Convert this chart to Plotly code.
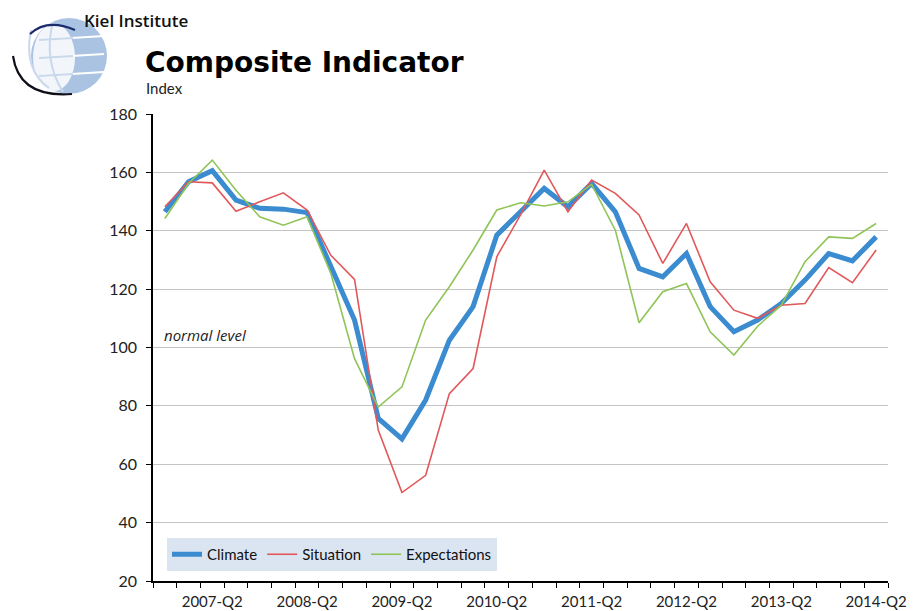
import plotly.graph_objects as go

quarters = ["2006-Q4",
            "2007-Q1", "2007-Q2", "2007-Q3", "2007-Q4",
            "2008-Q1", "2008-Q2", "2008-Q3", "2008-Q4",
            "2009-Q1", "2009-Q2", "2009-Q3", "2009-Q4",
            "2010-Q1", "2010-Q2", "2010-Q3", "2010-Q4",
            "2011-Q1", "2011-Q2", "2011-Q3", "2011-Q4",
            "2012-Q1", "2012-Q2", "2012-Q3", "2012-Q4",
            "2013-Q1", "2013-Q2", "2013-Q3", "2013-Q4",
            "2014-Q1", "2014-Q2"]

climate = [146.5, 156.8, 160.6, 150.5, 147.7, 147.4, 146.2, 127.6, 109.4, 75.7,
           68.7, 82.0, 102.5, 114.0, 138.5, 146.5, 154.5, 148.2, 156.2, 146.5,
           127.1, 124.2, 132.2, 114.0, 105.4, 109.4, 115.1, 123.1, 132.2, 129.7, 137.9]

situation = [148.2, 156.8, 156.4, 146.7, 149.9, 153.0, 147.1, 131.6, 123.3, 71.7,
             50.3, 56.2, 84.2, 92.8, 131.1, 145.4, 160.8, 146.5, 157.4, 152.8,
             145.4, 128.8, 142.5, 122.5, 112.8, 110.0, 114.5, 115.1, 127.4, 122.2, 133.4]

expectations = [144.2, 156.2, 164.2, 153.9, 144.8, 141.9, 144.8, 125.4, 96.2, 79.6,
                86.5, 109.4, 120.8, 133.4, 147.1, 149.6, 148.5, 149.9, 155.9, 140.2,
                108.5, 119.1, 121.9, 105.4, 97.4, 107.3, 114.5, 129.4, 137.9, 137.4, 142.5]

y_ticks = [20, 40, 60, 80, 100, 120, 140, 160, 180]

# page body has an 8px margin: work in screen pixels, convert to figure pixels
OFF = 8
W, H = 924 - OFF, 611 - OFF
PL, PR, PT, PB = 153, 888, 114, 581   # plot area in screen pixels
ML, MR, MT, MB = PL - OFF, (W + OFF) - PR, PT - OFF, (H + OFF) - PB
PW, PH = PR - PL, PB - PT


def px(x):
    return (x - PL) / PW


def py(y):
    return (PB - y) / PH


xi = list(range(len(quarters)))
label_idx = [i for i, q in enumerate(quarters) if q.endswith("Q2")]

fig = go.Figure()
fig.add_trace(go.Scatter(x=xi, y=climate, mode="lines", name="Climate",
                         line=dict(color="#3a8bcf", width=5)))
fig.add_trace(go.Scatter(x=xi, y=situation, mode="lines", name="Situation",
                         line=dict(color="#e2585a", width=1.6)))
fig.add_trace(go.Scatter(x=xi, y=expectations, mode="lines", name="Expectations",
                         line=dict(color="#8fc457", width=1.6)))

shapes = []
# logo: globe
cx, cy, r = 69, 56, 38
shapes.append(dict(type="circle", xref="paper", yref="paper",
                   x0=px(cx - r), x1=px(cx + r), y0=py(cy + r), y1=py(cy - r),
                   fillcolor="#abc3e2", line=dict(width=0), layer="above"))
shapes.append(dict(type="circle", xref="paper", yref="paper",
                   x0=px(cx - r + 2), x1=px(cx + 6), y0=py(cy + r - 3), y1=py(cy - r + 6),
                   fillcolor="#f2f6fb", line=dict(width=0), layer="above"))
for yy in (38, 56, 74):
    shapes.append(dict(type="line", xref="paper", yref="paper",
                       x0=px(cx - r + 8), x1=px(cx + r - 3), y0=py(yy + 2), y1=py(yy - 2),
                       line=dict(color="#ffffff", width=2), layer="above"))
for yy in (38, 56, 74):
    shapes.append(dict(type="line", xref="paper", yref="paper",
                       x0=px(cx - r + 8), x1=px(cx + 4), y0=py(yy + 2), y1=py(yy),
                       line=dict(color="#c9d8ec", width=2), layer="above"))
shapes.append(dict(type="path", xref="paper", yref="paper",
                   path=f"M {px(31)},{py(30)} Q {px(23)},{py(70)} {px(49)},{py(88)}",
                   line=dict(color="#c9d8ec", width=2), layer="above"))
shapes.append(dict(type="path", xref="paper", yref="paper",
                   path=f"M {px(53)},{py(22)} Q {px(43)},{py(60)} {px(63)},{py(92)}",
                   line=dict(color="#c9d8ec", width=2), layer="above"))
shapes.append(dict(type="path", xref="paper", yref="paper",
                   path=f"M {px(13)},{py(56)} Q {px(19)},{py(98)} {px(72)},{py(94)}",
                   line=dict(color="#10101a", width=2.2), layer="above"))
shapes.append(dict(type="path", xref="paper", yref="paper",
                   path=f"M {px(30)},{py(34)} Q {px(47)},{py(18)} {px(75)},{py(30)}",
                   line=dict(color="#1a2a6a", width=2.2), layer="above"))

annotations = [
    dict(text="Kiel Institute", xref="paper", yref="paper", x=px(82), y=py(20),
         xanchor="left", yanchor="middle", showarrow=False,
         font=dict(family="Open Sans", size=17, color="#111111", weight=600)),
    dict(text="<b>Composite Indicator</b>", xref="paper", yref="paper", x=px(143), y=py(62),
         xanchor="left", yanchor="middle", showarrow=False,
         font=dict(family="DejaVu Sans", size=28, color="#000000")),
    dict(text="Index", xref="paper", yref="paper", x=px(144), y=py(88),
         xanchor="left", yanchor="middle", showarrow=False,
         font=dict(family="Lato", size=15, color="#222222")),
    dict(text="<i>normal level</i>", xref="paper", yref="y", x=px(162), y=104.3,
         xanchor="left", yanchor="middle", showarrow=False,
         font=dict(family="Open Sans", size=15, color="#222222")),
]

fig.update_layout(
    width=W, height=H,
    margin=dict(l=ML, r=MR, t=MT, b=MB, pad=0, autoexpand=False),
    paper_bgcolor="white", plot_bgcolor="white",
    showlegend=True,
    legend=dict(orientation="h", x=px(167), y=py(571), xanchor="left", yanchor="bottom",
                bgcolor="#dbe5f1", borderwidth=0,
                font=dict(family="Lato", size=15, color="#111111"),
                itemwidth=30, tracegroupgap=0),
    shapes=shapes,
    annotations=annotations,
    xaxis=dict(range=[-0.5, len(quarters) - 0.5], automargin=False,
               tickmode="array", tickvals=label_idx,
               ticktext=[quarters[i] for i in label_idx],
               ticks="", ticklen=0, ticklabelstandoff=6,
               showgrid=False, zeroline=False,
               showline=True, linecolor="#000000", linewidth=1.5,
               tickfont=dict(family="Lato", size=15, color="#222222"),
               minor=dict(tickmode="linear", tick0=-0.5, dtick=1, ticks="outside",
                          ticklen=5, tickcolor="#000000", tickwidth=1.2, showgrid=False)),
    yaxis=dict(range=[20, 180], tickmode="array", tickvals=y_ticks, automargin=False,
               ticks="outside", ticklen=5, tickcolor="#000000", tickwidth=1.2,
               showgrid=True, gridcolor="#c4c4c4", gridwidth=1.2,
               zeroline=False, showline=True, linecolor="#000000", linewidth=1.5,
               tickfont=dict(family="Lato", size=16, color="#222222"),
               ticklabelstandoff=6),
)

fig.write_html("out.html")
